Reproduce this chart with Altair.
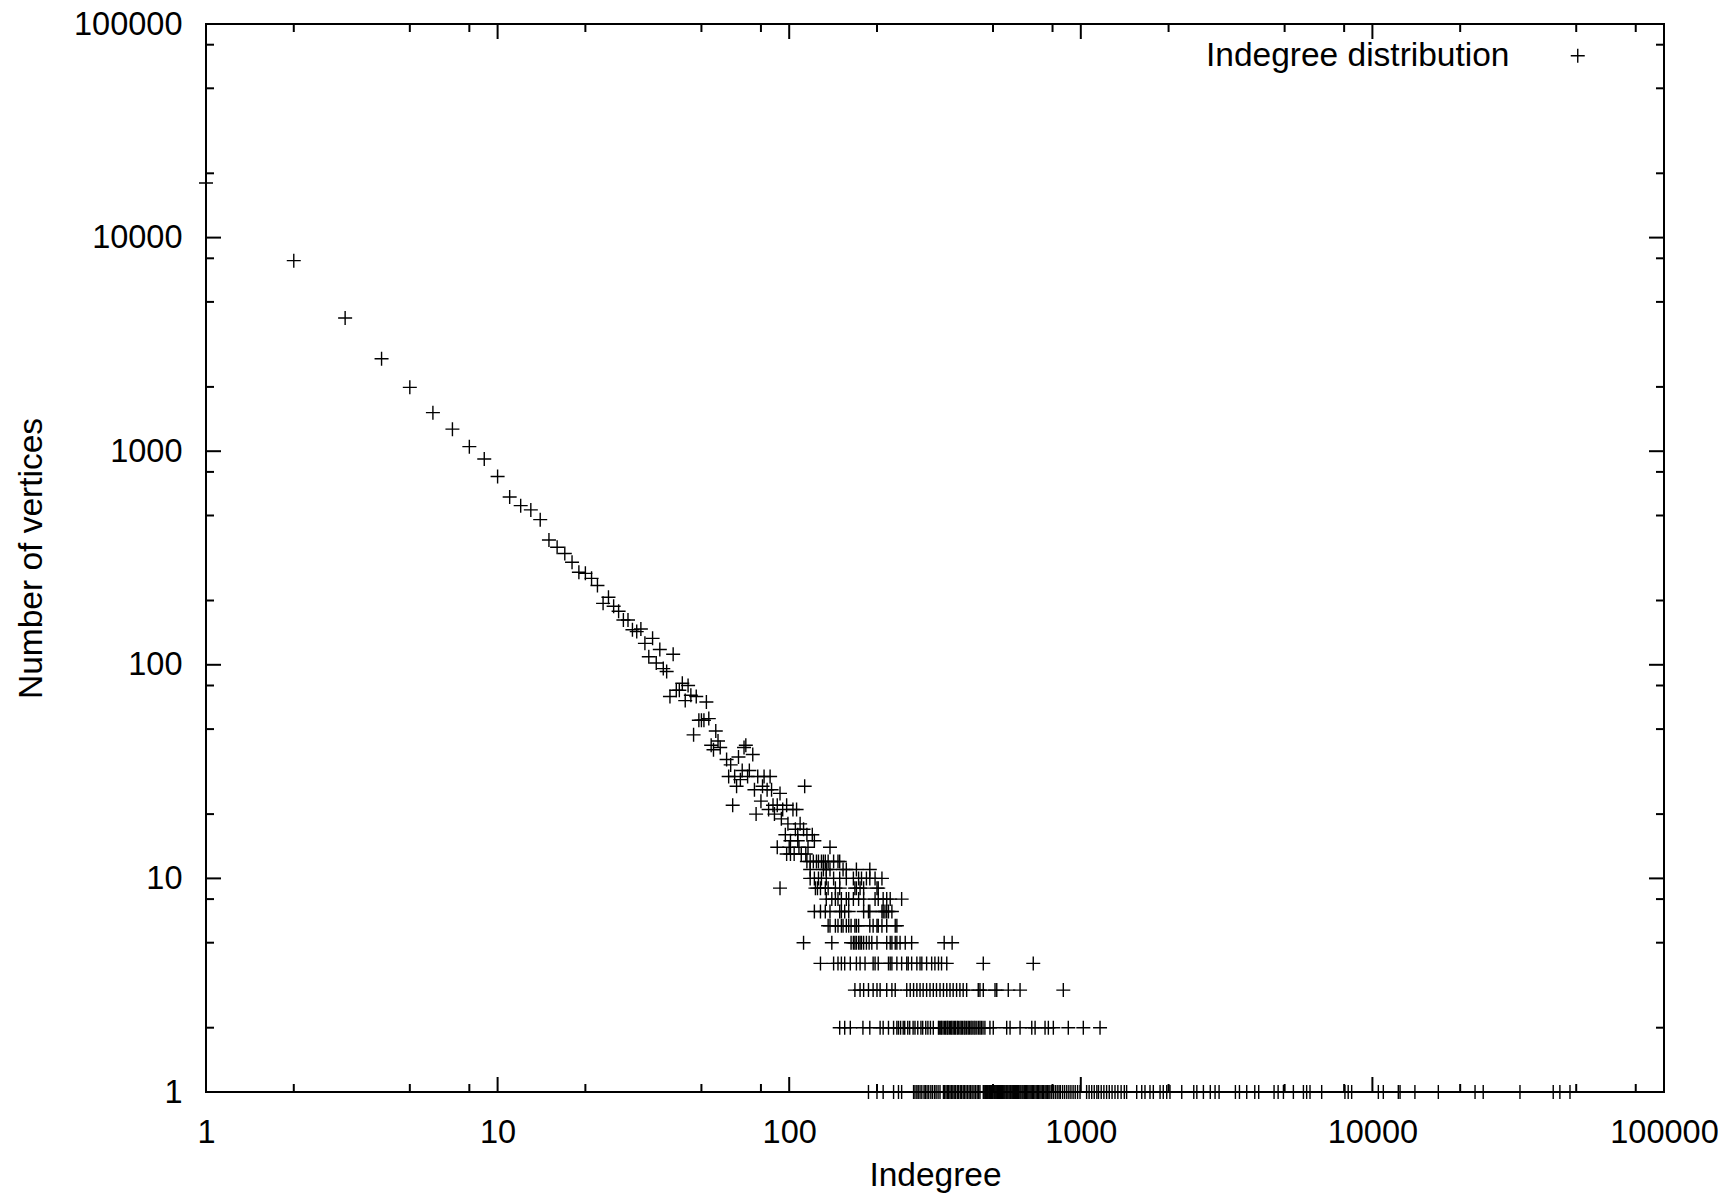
import altair as alt
import pandas as pd

SERIES = "Indegree distribution"
FONT = "Liberation Sans"

# ---- upper part of the distribution (indegree, number of vertices) ----
upper_x = [1, 2, 3, 4, 5, 6, 7, 8, 9, 10, 11, 12, 13, 14, 15, 16, 17, 18, 19, 20,
           21, 22, 23, 24, 25, 26, 27, 28, 29, 30, 31, 32, 33, 34, 35, 36, 37, 38, 39, 40,
           41, 42, 43, 44, 45, 46, 47, 48, 49, 50, 51, 52, 53, 54, 55, 56, 57, 58,
           61, 62, 63, 64, 65, 66, 67, 68, 69, 70, 71, 72, 73, 75, 76, 77, 78, 80, 81, 82,
           84, 85, 86, 87, 88, 89, 91, 93, 94, 95, 97, 98, 99, 103, 105, 106, 107, 109, 112, 113,
           115, 120, 91, 100, 101, 107, 108, 116, 122, 138, 98, 101, 104, 110, 114]
upper_y = [18000, 7800, 4200, 2710, 1990, 1515, 1268, 1050, 920, 761, 610, 556, 531, 478, 384, 355, 332, 302, 271, 268,
           254, 235, 194, 207, 188, 178, 162, 162, 146, 143, 147, 126, 109, 133, 102, 118, 96, 93, 71, 112,
           76, 76, 82, 68, 80, 72, 47, 71, 55, 55, 55, 67, 56, 42, 40, 49, 44, 41,
           36, 30, 34, 22, 30, 27, 37, 29, 32, 41, 42, 30, 32, 38, 26, 20, 30, 23, 27, 30,
           26, 21, 30, 26, 22, 20, 22, 25, 19, 21, 16, 22, 18, 21, 17, 21, 16, 18, 17, 27,
           16, 16, 14, 14, 15, 15, 14, 14, 15, 14, 13, 13, 13, 13, 13]

# ---- rows of small vertex counts: indegrees per count ----
row12_x = [115, 118, 121, 124, 126, 129, 131, 133, 136, 142, 147, 149]
row11_x = [118, 131, 134, 138, 153, 157, 170, 189]
row10_x = [118, 122, 126, 129, 134, 142, 149, 157, 166, 173, 177, 184, 189, 197, 208]
row9_x = [93, 123, 125, 128, 133, 136, 144, 149, 168, 170, 175, 180, 200, 202]
row8_x = [134, 140, 144, 147, 151, 157, 160, 166, 173, 180, 197, 202, 210, 216, 222, 243]
row7_x = [122, 128, 133, 138, 149, 151, 155, 160, 180, 187, 189, 208, 210, 213, 216, 219, 225]
row6_x = [136, 138, 144, 147, 151, 153, 157, 160, 163, 168, 170, 173, 189, 194, 200, 202,
          208, 216, 231, 234]
row5_x = [112, 140, 163, 166, 168, 170, 173, 175, 177, 180, 184, 188, 192, 200, 216, 222,
          225, 231, 234, 240, 250, 263, 340, 362]
row4_x = [128, 142, 147, 151, 155, 162, 170, 175, 182, 194, 197, 202, 219, 222, 225, 234,
          243, 253, 256, 263, 274, 281, 285, 296, 308, 316, 325, 333, 347, 463, 687]
row3_x = [168, 175, 180, 187, 194, 200, 205, 216, 225, 231, 253, 260, 267, 274, 281, 288,
          296, 304, 312, 320, 329, 338, 347, 356, 365, 375, 385, 395, 406, 445, 451, 463,
          508, 515, 564, 619, 871]
row2_x = [149, 155, 162, 179, 189, 205, 210, 219, 228, 234, 237, 241, 246, 249, 255, 259,
          266, 270, 276, 283, 287, 294, 299, 305, 312, 325, 327, 331, 333, 337, 341, 344,
          348, 350, 354, 358, 361, 365, 369, 372, 377, 380, 385, 389, 393, 398, 401, 406,
          411, 415, 420, 424, 430, 434, 440, 446, 451, 456, 462, 469, 488, 501, 557, 572,
          619, 679, 697, 754, 774, 805, 906, 1020, 1164]
row1_x = [187, 200, 210, 228, 237, 243, 267, 270, 274, 277, 281, 285, 290, 293, 297, 301,
          306, 310, 315, 319, 324, 329, 338, 341, 345, 349, 352, 356, 360, 364, 368, 372,
          377, 381, 386, 390, 395, 399, 404, 409, 414, 419, 424, 430, 435, 441, 446, 451,
          463, 466, 469, 472, 475, 478, 481, 484, 487, 491, 494, 497, 500, 504, 507, 511,
          515, 518, 522, 526, 530, 534, 538, 542, 546, 550, 555, 559, 563, 568, 573, 577,
          582, 587, 592, 597, 602, 607, 612, 618, 623, 629, 634, 640, 646, 652, 658, 664,
          670, 676, 683, 689, 696, 703, 710, 717, 724, 731, 739, 746, 754, 761, 769, 777,
          784, 795, 806, 818, 830, 842, 851, 866, 880, 895, 910, 925, 941, 957, 975, 994,
          1047, 1068, 1090, 1112, 1135, 1150, 1175, 1200, 1226, 1252, 1280, 1310, 1340, 1375,
          1410, 1436, 1555, 1618, 1660, 1727, 1773, 1870, 1918, 1971, 2022, 2219, 2440, 2500,
          2633, 2780, 2887, 2980, 3390, 3500, 3707, 3950, 4075, 4600, 4750, 4953, 5358, 5800,
          5950, 6110, 6700, 8050, 8260, 8490, 10480, 10900, 12270, 12440, 13990, 16830, 22490,
          23990, 32070, 41700, 43950, 47600]

rows = {12: row12_x, 11: row11_x, 10: row10_x, 9: row9_x, 8: row8_x, 7: row7_x,
        6: row6_x, 5: row5_x, 4: row4_x, 3: row3_x, 2: row2_x, 1: row1_x}

# ---- axis ticks ----
major_ticks = [1, 10, 100, 1000, 10000, 100000]
minor_ticks = [2, 5, 8, 20, 50, 80, 200, 500, 800, 2000, 5000, 8000, 20000, 50000, 80000]

xs, ys = list(upper_x), list(upper_y)
for count, vals in rows.items():
    xs += vals
    ys += [count] * len(vals)
df = pd.DataFrame({"indegree": xs, "vertices": ys, "series": SERIES})

W, H = 1458, 1068
CROSS = "M-1,0L1,0M0,-1L0,1"
xscale = alt.Scale(type="log", domain=[1, 100000], nice=False)
yscale = alt.Scale(type="log", domain=[1, 100000], nice=False)

x_axis = alt.Axis(values=major_ticks, format="d", ticks=False, domain=False,
                  grid=False, labelFontSize=32.5, labelPadding=24,
                  labelFlush=False, labelOverlap=False, labelBound=False,
                  title="Indegree", titleFontSize=33.5, titleY=83,
                  titleBaseline="middle")
y_axis = alt.Axis(values=major_ticks, format="d", ticks=False, domain=False,
                  grid=False, labelFontSize=32.5, labelPadding=24,
                  labelFlush=False, labelOverlap=False, labelBound=False,
                  title="Number of vertices", titleFontSize=33.5,
                  titleX=-175, titleY=H / 2, titleAngle=270,
                  titleAlign="center", titleBaseline="middle")


def tick_layers(values, length):
    d = pd.DataFrame({"v": values})
    base = alt.Chart(d).mark_rule(color="black", strokeWidth=2)
    bottom = base.encode(x=alt.X("v:Q", scale=xscale, axis=x_axis, title="Indegree"),
                         y=alt.value(H), y2=alt.value(H - length))
    top = base.encode(x=alt.X("v:Q", scale=xscale, axis=x_axis, title="Indegree"),
                      y=alt.value(0), y2=alt.value(length))
    left = base.encode(y=alt.Y("v:Q", scale=yscale, axis=y_axis, title="Number of vertices"),
                       x=alt.value(0), x2=alt.value(length))
    right = base.encode(y=alt.Y("v:Q", scale=yscale, axis=y_axis, title="Number of vertices"),
                        x=alt.value(W), x2=alt.value(W - length))
    return [bottom, top, left, right]


points = alt.Chart(df).mark_point(
    shape=CROSS, filled=False, size=196, strokeWidth=1.4, opacity=1
).encode(
    x=alt.X("indegree:Q", scale=xscale, axis=x_axis, title="Indegree"),
    y=alt.Y("vertices:Q", scale=yscale, axis=y_axis, title="Number of vertices"),
    color=alt.Color("series:N", scale=alt.Scale(range=["black"]),
                    legend=alt.Legend(title=None, orient="none", legendX=1355, legendY=15,
                                      padding=0, labelFontSize=33.5, labelAlign="right",
                                      labelOffset={"expr": "-85"}, labelLimit=600,
                                      labelColor="black",
                                      symbolType=CROSS, symbolSize=196,
                                      symbolStrokeWidth=1.4, symbolStrokeColor="black",
                                      symbolFillColor="transparent")),
)

layers = [points] + tick_layers(major_ticks, 15) + tick_layers(minor_ticks, 8)

chart = alt.layer(*layers).properties(
    width=W, height=H,
    padding={"left": 198, "top": 16, "right": 54, "bottom": 104},
    autosize=alt.AutoSizeParams(type="none"),
).configure(font=FONT).configure_view(
    stroke="black", strokeWidth=2
).configure_axis(
    labelColor="black", titleColor="black", titleFontWeight="normal", labelFont=FONT, titleFont=FONT
).configure_legend(labelFont=FONT)

chart.save("out.html", embed_options={"renderer": "svg", "actions": False})
